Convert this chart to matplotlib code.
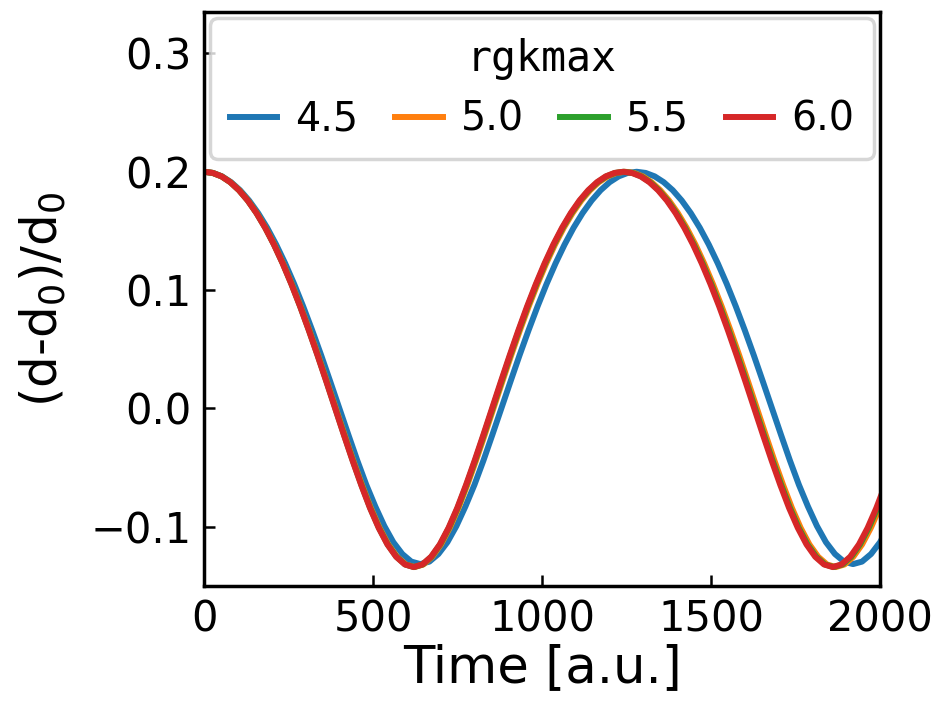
import matplotlib
matplotlib.use("Agg")
import matplotlib.pyplot as plt

# Bond-length oscillation (d-d0)/d0 versus time for several rgkmax values
labels = ["4.5", "5.0", "5.5", "6.0"]
colors = ["#1f77b4", "#ff7f0e", "#2ca02c", "#d62728"]

t_45 = [0, 26.7, 53.3, 80.0, 106.7, 133.3, 160.0, 186.7, 213.3, 240.0, 266.7, 293.3,
        320.0, 346.7, 373.3, 400.0, 426.7, 453.3, 480.0, 506.7, 533.3, 560.0, 586.7,
        613.3, 640.0, 666.7, 693.3, 720.0, 746.7, 773.3, 800.0, 826.7, 853.3, 880.0,
        906.7, 933.3, 960.0, 986.7, 1013.3, 1040.0, 1066.7, 1093.3, 1120.0, 1146.7,
        1173.3, 1200.0, 1226.7, 1253.3, 1280.0, 1306.7, 1333.3, 1360.0, 1386.7, 1413.3,
        1440.0, 1466.7, 1493.3, 1520.0, 1546.7, 1573.3, 1600.0, 1626.7, 1653.3, 1680.0,
        1706.7, 1733.3, 1760.0, 1786.7, 1813.3, 1840.0, 1866.7, 1893.3, 1920.0, 1946.7,
        1973.3, 2000.0, 2026.7, 2053.3, 2080.0]
y_45 = [0.2000, 0.1990, 0.1961, 0.1912, 0.1844, 0.1757, 0.1651, 0.1527, 0.1385, 0.1226,
        0.1051, 0.0862, 0.0660, 0.0448, 0.0228, 0.0004, -0.0220, -0.0439, -0.0645,
        -0.0828, -0.0993, -0.1130, -0.1230, -0.1294, -0.1315, -0.1294, -0.1230, -0.1130,
        -0.0993, -0.0828, -0.0645, -0.0439, -0.0220, 0.0004, 0.0228, 0.0448, 0.0660,
        0.0862, 0.1051, 0.1226, 0.1385, 0.1527, 0.1651, 0.1757, 0.1844, 0.1912, 0.1961,
        0.1990, 0.2000, 0.1990, 0.1961, 0.1912, 0.1844, 0.1757, 0.1651, 0.1527, 0.1385,
        0.1226, 0.1051, 0.0862, 0.0660, 0.0448, 0.0228, 0.0004, -0.0220, -0.0439,
        -0.0645, -0.0828, -0.0993, -0.1130, -0.1230, -0.1294, -0.1315, -0.1294, -0.1230,
        -0.1130, -0.0993, -0.0828, -0.0645]

t_50 = [0, 26.0, 51.9, 77.9, 103.8, 129.8, 155.8, 181.7, 207.7, 233.6, 259.6, 285.5,
        311.5, 337.5, 363.4, 389.4, 415.3, 441.3, 467.3, 493.2, 519.2, 545.1, 571.1,
        597.0, 623.0, 649.0, 674.9, 700.9, 726.8, 752.8, 778.8, 804.7, 830.7, 856.6,
        882.6, 908.5, 934.5, 960.5, 986.4, 1012.4, 1038.3, 1064.3, 1090.3, 1116.2,
        1142.2, 1168.1, 1194.1, 1220.0, 1246.0, 1272.0, 1297.9, 1323.9, 1349.8, 1375.8,
        1401.8, 1427.7, 1453.7, 1479.6, 1505.6, 1531.5, 1557.5, 1583.5, 1609.4, 1635.4,
        1661.3, 1687.3, 1713.3, 1739.2, 1765.2, 1791.1, 1817.1, 1843.0, 1869.0, 1895.0,
        1920.9, 1946.9, 1972.8, 1998.8, 2024.8]
y_50 = [0.2000, 0.1990, 0.1961, 0.1912, 0.1844, 0.1757, 0.1651, 0.1527, 0.1385, 0.1226,
        0.1051, 0.0862, 0.0660, 0.0448, 0.0228, 0.0004, -0.0220, -0.0439, -0.0647,
        -0.0840, -0.1009, -0.1149, -0.1253, -0.1318, -0.1340, -0.1318, -0.1253, -0.1149,
        -0.1009, -0.0840, -0.0647, -0.0439, -0.0220, 0.0004, 0.0228, 0.0448, 0.0660,
        0.0862, 0.1051, 0.1226, 0.1385, 0.1527, 0.1651, 0.1757, 0.1844, 0.1912, 0.1961,
        0.1990, 0.2000, 0.1990, 0.1961, 0.1912, 0.1844, 0.1757, 0.1651, 0.1527, 0.1385,
        0.1226, 0.1051, 0.0862, 0.0660, 0.0448, 0.0228, 0.0004, -0.0220, -0.0439,
        -0.0647, -0.0840, -0.1009, -0.1149, -0.1253, -0.1318, -0.1340, -0.1318, -0.1253,
        -0.1149, -0.1009, -0.0840, -0.0647]

t_55 = [0, 25.9, 51.8, 77.6, 103.5, 129.4, 155.3, 181.1, 207.0, 232.9, 258.8, 284.6,
        310.5, 336.4, 362.3, 388.1, 414.0, 439.9, 465.8, 491.6, 517.5, 543.4, 569.3,
        595.1, 621.0, 646.9, 672.8, 698.6, 724.5, 750.4, 776.3, 802.1, 828.0, 853.9,
        879.8, 905.6, 931.5, 957.4, 983.3, 1009.1, 1035.0, 1060.9, 1086.8, 1112.6,
        1138.5, 1164.4, 1190.3, 1216.1, 1242.0, 1267.9, 1293.8, 1319.6, 1345.5, 1371.4,
        1397.3, 1423.1, 1449.0, 1474.9, 1500.8, 1526.6, 1552.5, 1578.4, 1604.3, 1630.1,
        1656.0, 1681.9, 1707.8, 1733.6, 1759.5, 1785.4, 1811.3, 1837.1, 1863.0, 1888.9,
        1914.8, 1940.6, 1966.5, 1992.4, 2018.3]
y_55 = [0.2000, 0.1990, 0.1961, 0.1912, 0.1844, 0.1757, 0.1651, 0.1527, 0.1385, 0.1226,
        0.1051, 0.0862, 0.0660, 0.0448, 0.0228, 0.0004, -0.0220, -0.0439, -0.0647,
        -0.0840, -0.1009, -0.1149, -0.1253, -0.1318, -0.1340, -0.1318, -0.1253, -0.1149,
        -0.1009, -0.0840, -0.0647, -0.0439, -0.0220, 0.0004, 0.0228, 0.0448, 0.0660,
        0.0862, 0.1051, 0.1226, 0.1385, 0.1527, 0.1651, 0.1757, 0.1844, 0.1912, 0.1961,
        0.1990, 0.2000, 0.1990, 0.1961, 0.1912, 0.1844, 0.1757, 0.1651, 0.1527, 0.1385,
        0.1226, 0.1051, 0.0862, 0.0660, 0.0448, 0.0228, 0.0004, -0.0220, -0.0439,
        -0.0647, -0.0840, -0.1009, -0.1149, -0.1253, -0.1318, -0.1340, -0.1318, -0.1253,
        -0.1149, -0.1009, -0.0840, -0.0647]

t_60 = [0, 25.8, 51.7, 77.5, 103.3, 129.2, 155.0, 180.8, 206.7, 232.5, 258.3, 284.2,
        310.0, 335.8, 361.7, 387.5, 413.3, 439.2, 465.0, 490.8, 516.7, 542.5, 568.3,
        594.2, 620.0, 645.8, 671.7, 697.5, 723.3, 749.2, 775.0, 800.8, 826.7, 852.5,
        878.3, 904.2, 930.0, 955.8, 981.7, 1007.5, 1033.3, 1059.2, 1085.0, 1110.8,
        1136.7, 1162.5, 1188.3, 1214.2, 1240.0, 1265.8, 1291.7, 1317.5, 1343.3, 1369.2,
        1395.0, 1420.8, 1446.7, 1472.5, 1498.3, 1524.2, 1550.0, 1575.8, 1601.7, 1627.5,
        1653.3, 1679.2, 1705.0, 1730.8, 1756.7, 1782.5, 1808.3, 1834.2, 1860.0, 1885.8,
        1911.7, 1937.5, 1963.3, 1989.2, 2015.0]
y_60 = [0.2000, 0.1990, 0.1961, 0.1912, 0.1844, 0.1757, 0.1651, 0.1527, 0.1385, 0.1226,
        0.1051, 0.0862, 0.0660, 0.0448, 0.0228, 0.0004, -0.0220, -0.0439, -0.0647,
        -0.0840, -0.1009, -0.1149, -0.1253, -0.1318, -0.1340, -0.1318, -0.1253, -0.1149,
        -0.1009, -0.0840, -0.0647, -0.0439, -0.0220, 0.0004, 0.0228, 0.0448, 0.0660,
        0.0862, 0.1051, 0.1226, 0.1385, 0.1527, 0.1651, 0.1757, 0.1844, 0.1912, 0.1961,
        0.1990, 0.2000, 0.1990, 0.1961, 0.1912, 0.1844, 0.1757, 0.1651, 0.1527, 0.1385,
        0.1226, 0.1051, 0.0862, 0.0660, 0.0448, 0.0228, 0.0004, -0.0220, -0.0439,
        -0.0647, -0.0840, -0.1009, -0.1149, -0.1253, -0.1318, -0.1340, -0.1318, -0.1253,
        -0.1149, -0.1009, -0.0840, -0.0647]

x_ticks = [0, 500, 1000, 1500, 2000]
y_ticks = [-0.1, 0.0, 0.1, 0.2, 0.3]

series = [(t_45, y_45), (t_50, y_50), (t_55, y_55), (t_60, y_60)]

fig = plt.figure(figsize=(9.39, 7.05), dpi=100)
ax = fig.add_axes([0.2173, 0.1688, 0.7199, 0.8142])

for (t, y), lab, col in zip(series, labels, colors):
    ax.plot(t, y, color=col, lw=4.3, label=lab, solid_joinstyle="round")

ax.set_xlim(0, 2000)
ax.set_ylim(-0.15, 0.335)
ax.set_xticks(x_ticks)
ax.set_yticks(y_ticks)
ax.tick_params(direction="in", length=8, width=1.8, labelsize=30, pad=9)
for sp in ax.spines.values():
    sp.set_linewidth(2.5)

ax.set_xlabel("Time [a.u.]", fontsize=37, labelpad=2)
ax.set_ylabel("(d-d$_0$)/d$_0$", fontsize=36, labelpad=16)

leg = ax.legend(title="rgkmax", ncol=4, loc="upper right", fontsize=28.5,
                title_fontproperties={"family": "DejaVu Sans Mono", "size": 30},
                handlelength=1.2, handletextpad=0.46, columnspacing=0.92,
                borderaxespad=0.15, borderpad=0.5, labelspacing=0.5,
                frameon=True, fancybox=True)
leg.get_frame().set_linewidth(2.5)

fig.savefig("out.png", dpi=100)
